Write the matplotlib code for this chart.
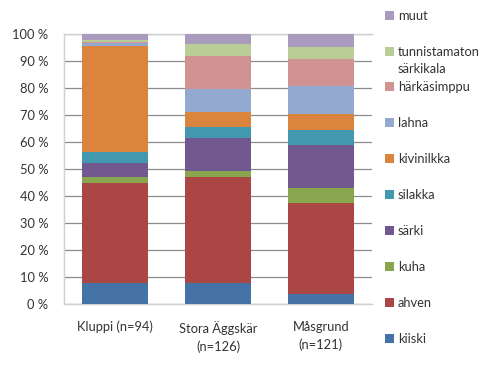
import matplotlib
matplotlib.use("Agg")
import matplotlib.pyplot as plt
import numpy as np

plt.rcParams['font.family'] = ['Lato', 'DejaVu Sans']

categories = ["Kluppi (n=94)", "Stora Äggskär\n(n=126)", "Måsgrund\n(n=121)"]
species = ["kiiski", "ahven", "kuha", "särki", "silakka", "kivinilkka",
           "lahna", "härkäsimppu", "tunnistamaton", "muut"]
kiiski = [7.8, 7.7, 3.5]
ahven = [36.9, 39.2, 33.8]
kuha = [2.3, 2.3, 5.7]
sarki = [5.1, 12.1, 15.9]
silakka = [4.2, 4.1, 5.7]
kivinilkka = [39.1, 5.8, 5.9]
lahna = [1.1, 8.3, 10.4]
harkasimppu = [0.4, 12.4, 9.8]
tunnistamaton = [1.0, 4.5, 4.5]
muut = [2.1, 3.6, 4.8]
yticks = [0, 10, 20, 30, 40, 50, 60, 70, 80, 90, 100]

series = [kiiski, ahven, kuha, sarki, silakka, kivinilkka, lahna,
          harkasimppu, tunnistamaton, muut]
colors = ["#4572A7", "#AA4643", "#89A54E", "#71588F", "#4198AF",
          "#DB843D", "#93A9CF", "#D19392", "#B9CD96", "#A99BBD"]

FS = 9.3
fig = plt.figure(figsize=(4.95, 3.78), dpi=100)
ax = fig.add_axes([0.129, 0.196, 0.623, 0.714])

x = np.arange(len(categories))
bottom = np.zeros(len(categories))
handles = []
for vals, c, name in zip(series, colors, species):
    b = ax.bar(x, vals, 0.64, bottom=bottom, color=c, label=name, zorder=3)
    handles.append(b)
    bottom += np.array(vals)

ax.set_xlim(-0.5, 2.5)
ax.set_ylim(0, 100)
ax.set_yticks(yticks)
ax.set_yticklabels([f"{v} %" for v in yticks], fontsize=FS, color="#333333")
ax.set_xticks(x)
ax.set_xticklabels(categories, fontsize=FS, color="#333333", linespacing=1.55)
ax.tick_params(axis='both', length=0)
ax.tick_params(axis='x', pad=12)
ax.tick_params(axis='y', pad=11)
ax.yaxis.grid(True, color="#8c8c8c", linewidth=0.9, zorder=0)
ax.set_axisbelow(True)
for s in ["top", "left", "bottom"]:
    ax.spines[s].set_color("#d0d0d0")
    ax.spines[s].set_linewidth(1.0)
ax.spines["right"].set_visible(False)

leg = fig.legend(handles[::-1], species[::-1], loc="upper left",
                 bbox_to_anchor=(0.758, 1.0), frameon=False, fontsize=FS,
                 handlelength=0.7, handleheight=0.7, handletextpad=0.3,
                 labelspacing=1.85, borderaxespad=0.35)
for t in leg.get_texts():
    t.set_color("#333333")
tt = leg.get_texts()[1]
fig.canvas.draw()
ax.annotate("särkikala", xy=(0, 0), xycoords=tt, xytext=(0, -4),
            textcoords="offset points", va="top", ha="left", fontsize=FS,
            color="#333333", annotation_clip=False)

fig.savefig("out.png", dpi=100)
